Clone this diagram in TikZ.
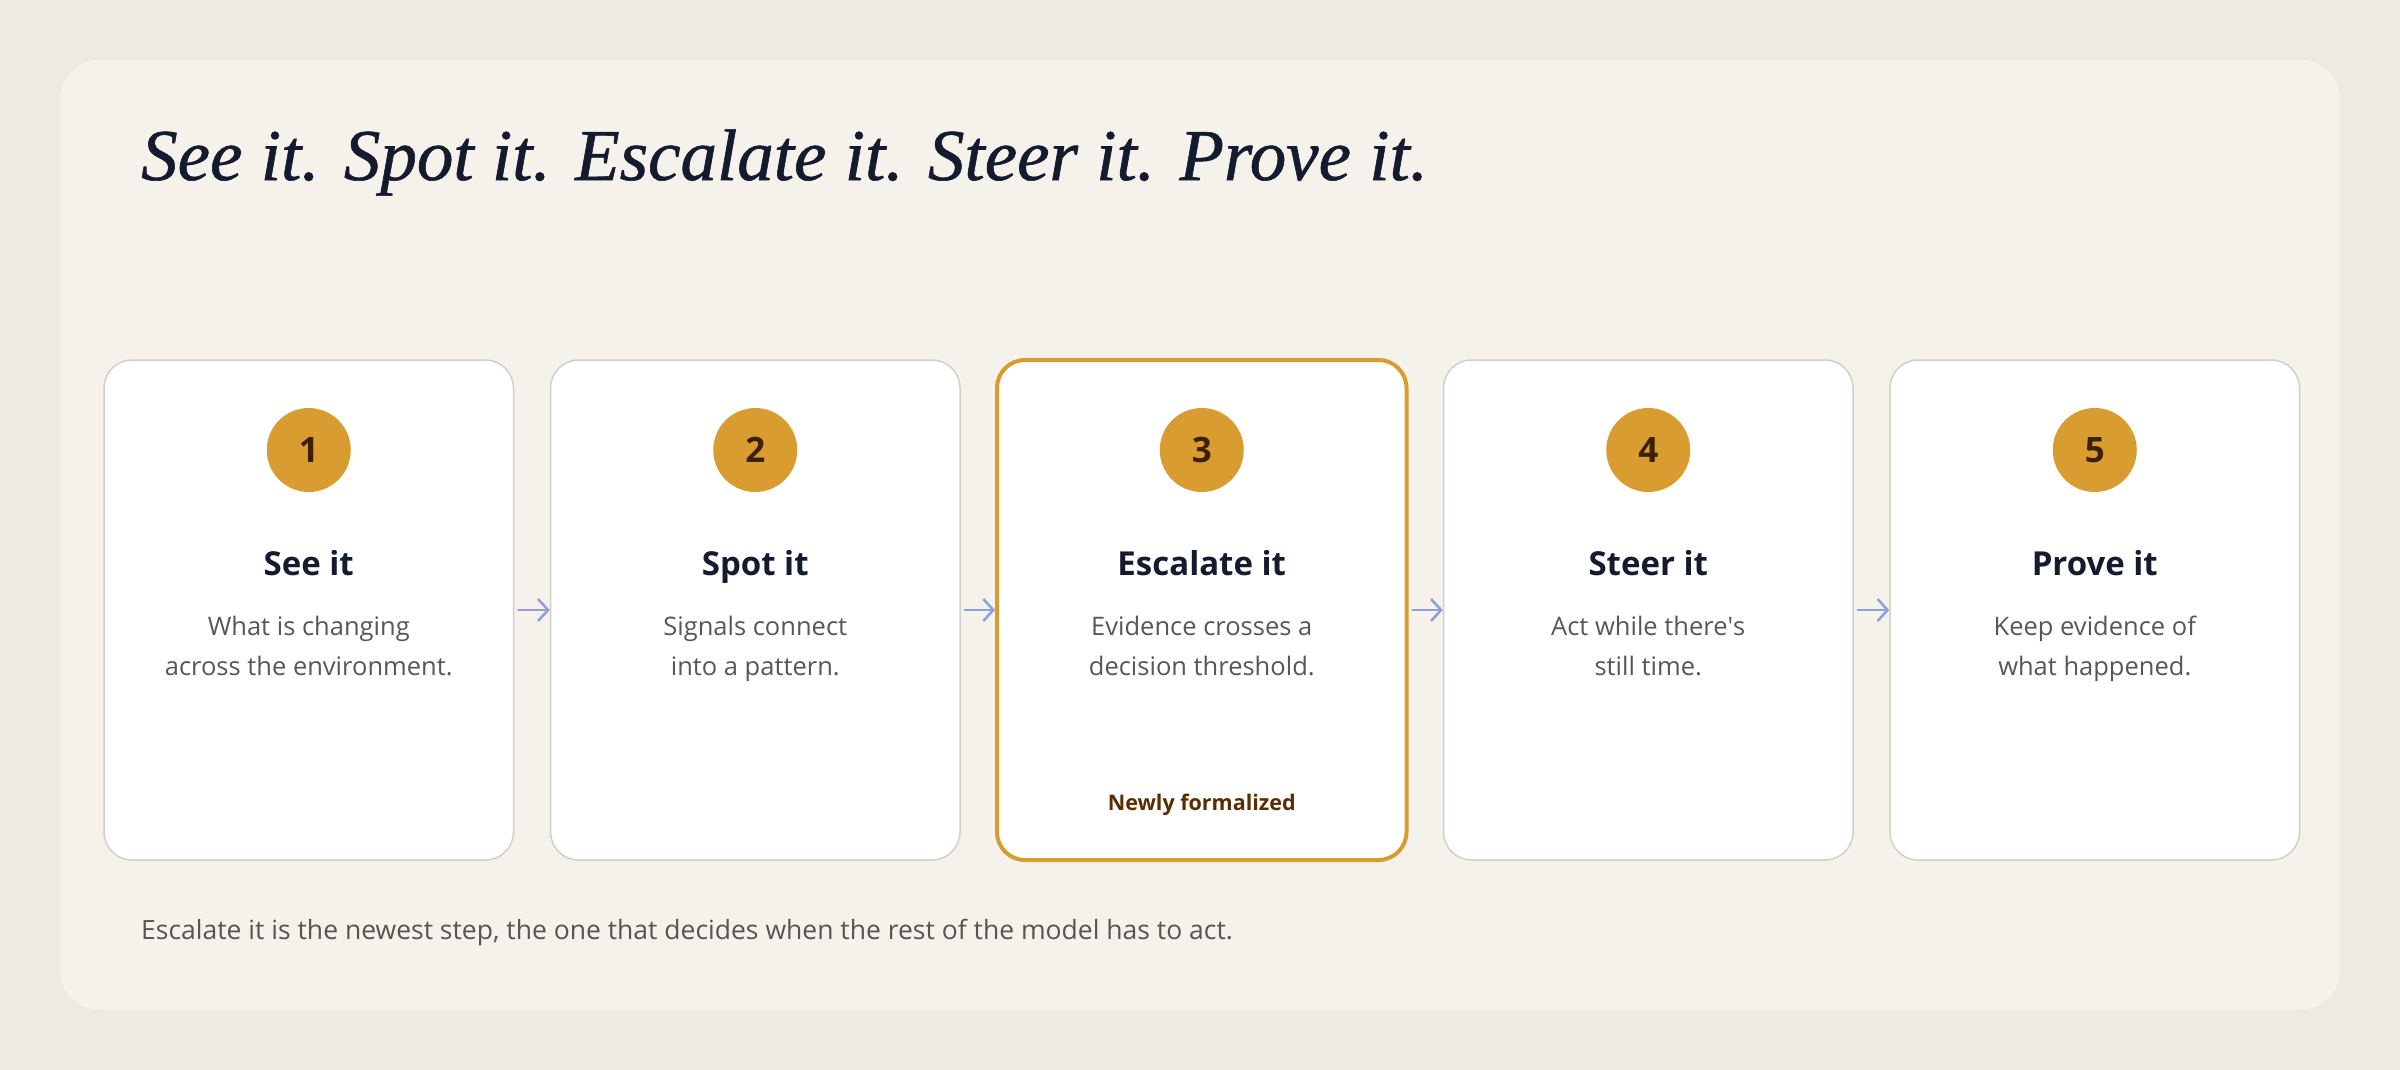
\documentclass[tikz,border=0pt]{standalone}
\usepackage{fontspec}
\setmainfont{Open Sans}
\newfontfamily\headfont[FakeBold=0.8]{Liberation Serif}
\usetikzlibrary{arrows.meta}
\definecolor{outerbg}{HTML}{EDEAE3}
\definecolor{panelbg}{HTML}{F5F2EB}
\definecolor{cardline}{HTML}{D3CFC5}
\definecolor{gold}{HTML}{D99C30}
\definecolor{numbrown}{HTML}{3D2000}
\definecolor{navy}{HTML}{151B2E}
\definecolor{descgray}{HTML}{575757}
\definecolor{newbrown}{HTML}{5A2D00}
\definecolor{arrowblue}{HTML}{8E9FDB}
\definecolor{footgray}{HTML}{58544F}
\tikzset{
  card/.style={draw=cardline, line width=1.5pt, fill=white, rounded corners=28pt,
    minimum width=409.5pt, minimum height=500pt, inner sep=0pt},
  cardhi/.style={card, draw=gold, line width=4pt},
  numdot/.style={circle, fill=gold, minimum size=84pt, inner sep=0pt,
    text=numbrown, font=\fontsize{35}{40}\selectfont\bfseries},
  cardtitle/.style={anchor=base, inner sep=0pt, text=navy,
    font=\fontsize{33}{38}\selectfont\bfseries},
  desc/.style={anchor=base, inner sep=0pt, text=descgray, align=center,
    font=\fontsize{25.5}{40}\selectfont},
  tagline/.style={anchor=base, inner sep=0pt, text=newbrown,
    font=\fontsize{21.5}{26}\selectfont\bfseries},
  flow/.style={draw=arrowblue, line width=2.5pt, line cap=round,
    -{Straight Barb[length=10pt,width=22pt,line width=2.5pt]}, shorten <=4pt},
}
\begin{document}
\begin{tikzpicture}[x=1pt,y=-1pt]
\fill[outerbg] (0,0) rectangle (2400,1070);
\useasboundingbox (0,0) rectangle (2400,1070);
\fill[panelbg, rounded corners=40pt] (60,60) rectangle (2340,1010);

\node[anchor=base west, inner sep=0pt, text=navy,
  font=\fontsize{73}{80}\headfont\itshape] (heading) at (141,180)
  {See it. Spot it. Escalate it. Steer it. Prove it.};

\node[card]   (c1) at (308.75,610) {};
\node[card]   (c2) at (755.25,610) {};
\node[cardhi] (c3) at (1201.75,610) {};
\node[card]   (c4) at (1648.25,610) {};
\node[card]   (c5) at (2094.75,610) {};

\draw[flow] (c1.east) -- (c2.west);
\draw[flow] (c2.east) -- (c3.west);
\draw[flow] (c3.east) -- (c4.west);
\draw[flow] (c4.east) -- (c5.west);

\node[numdot] (n1) at (308.75,450) {1};
\node[numdot] (n2) at (755.25,450) {2};
\node[numdot] (n3) at (1201.75,450) {3};
\node[numdot] (n4) at (1648.25,450) {4};
\node[numdot] (n5) at (2094.75,450) {5};

\node[cardtitle] (t1) at (308.75,575) {See it};
\node[cardtitle] (t2) at (755.25,575) {Spot it};
\node[cardtitle] (t3) at (1201.75,575) {Escalate it};
\node[cardtitle] (t4) at (1648.25,575) {Steer it};
\node[cardtitle] (t5) at (2094.75,575) {Prove it};

\node[desc] (d1) at (308.75,675) {What is changing\\across the environment.};
\node[desc] (d2) at (755.25,675) {Signals connect\\into a pattern.};
\node[desc] (d3) at (1201.75,675) {Evidence crosses a\\decision threshold.};
\node[desc] (d4) at (1648.25,675) {Act while there\textquotesingle s\\still time.};
\node[desc] (d5) at (2094.75,675) {Keep evidence of\\what happened.};

\node[tagline] (tag) at (1201.75,810) {Newly formalized};

\node[anchor=base west, inner sep=0pt, text=footgray,
  font=\fontsize{26.5}{30}\selectfont] (foot) at (141,939)
  {Escalate it is the newest step, the one that decides when the rest of the model has to act.};
\end{tikzpicture}
\end{document}
